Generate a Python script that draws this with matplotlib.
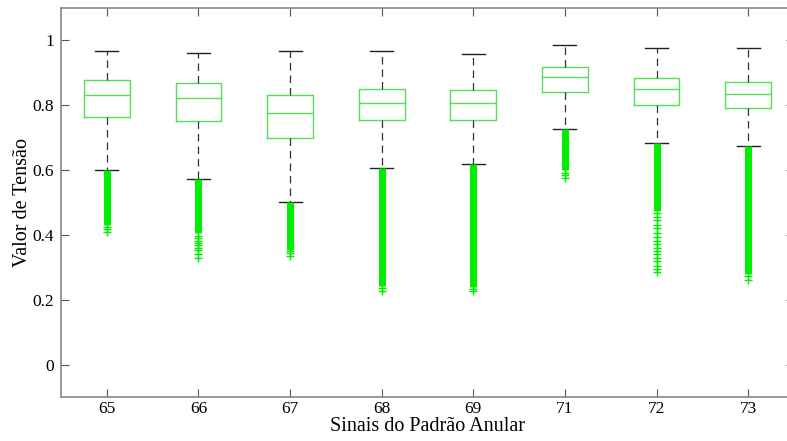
import matplotlib
matplotlib.use("Agg")
import matplotlib.pyplot as plt

# signal labels and box statistics
sinais = ['65', '66', '67', '68', '69', '71', '72', '73']
whisk_hi = [0.966, 0.960, 0.968, 0.966, 0.958, 0.987, 0.976, 0.976]
q3 = [0.878, 0.870, 0.833, 0.851, 0.847, 0.918, 0.885, 0.872]
mediana = [0.833, 0.821, 0.775, 0.808, 0.806, 0.888, 0.850, 0.836]
q1 = [0.765, 0.750, 0.700, 0.753, 0.755, 0.842, 0.802, 0.793]
whisk_lo = [0.599, 0.574, 0.502, 0.605, 0.618, 0.728, 0.684, 0.675]

# outliers: densely packed run below the lower whisker, then isolated points
denso_min = [0.430, 0.405, 0.355, 0.243, 0.240, 0.600, 0.475, 0.280]
outliers = [
    [0.425, 0.418, 0.410],
    [0.398, 0.390, 0.382, 0.375, 0.368, 0.360, 0.352, 0.340, 0.328],
    [0.350, 0.343, 0.335],
    [0.236, 0.228],
    [0.234, 0.228],
    [0.592, 0.584, 0.576],
    [0.468, 0.455, 0.445, 0.432, 0.420, 0.405, 0.395, 0.380, 0.372,
     0.360, 0.350, 0.340, 0.330, 0.318, 0.305, 0.295, 0.287],
    [0.274, 0.262],
]

verde_box = '#55dd55'
verde_out = '#00ee00'
fonte = 'Liberation Serif'

fig = plt.figure(figsize=(7.87, 4.41), dpi=100)
ax = fig.add_axes([61 / 787, 44 / 441, 733 / 787, 389 / 441])

stats = []
for i in range(len(sinais)):
    stats.append(dict(med=mediana[i], q1=q1[i], q3=q3[i],
                      whislo=whisk_lo[i], whishi=whisk_hi[i],
                      fliers=outliers[i], label=sinais[i]))

pos = list(range(1, len(sinais) + 1))
ax.bxp(stats, positions=pos, widths=0.5, showfliers=True,
       boxprops=dict(color=verde_box, linewidth=1.0),
       medianprops=dict(color=verde_box, linewidth=1.0),
       whiskerprops=dict(color='#333333', linestyle=(0, (6, 4)), linewidth=0.9),
       capprops=dict(color='#222222', linewidth=1.0),
       capwidths=0.25,
       flierprops=dict(marker='+', markeredgecolor=verde_out, markersize=6,
                       markeredgewidth=1.0, linestyle='none'))

# dense outlier runs look like a solid green column
ax.vlines(pos, denso_min, whisk_lo, colors=verde_out, linewidth=5, zorder=2)

ax.set_xlim(0.5, len(sinais) + 0.5)
ax.set_ylim(-0.1, 1.1)
ax.set_yticks([0, 0.2, 0.4, 0.6, 0.8, 1.0])
ax.set_yticklabels(['0', '0.2', '0.4', '0.6', '0.8', '1'])
ax.set_xticks(pos)
ax.set_xticklabels(sinais)
ax.tick_params(direction='in', length=6, top=True, right=True,
               color='#555555', labelsize=12.5)
ax.tick_params(axis='x', pad=3)
ax.tick_params(axis='y', pad=5)
for lab in ax.get_xticklabels() + ax.get_yticklabels():
    lab.set_fontfamily(fonte)
for s in ax.spines.values():
    s.set_color('#888888')
    s.set_linewidth(1.2)

ax.set_xlabel('Sinais do Padrão Anular', fontfamily=fonte, fontsize=14.5, labelpad=0)
ax.set_ylabel('Valor de Tensão', fontfamily=fonte, fontsize=14.5, labelpad=0)

fig.savefig('out.png', dpi=100)
